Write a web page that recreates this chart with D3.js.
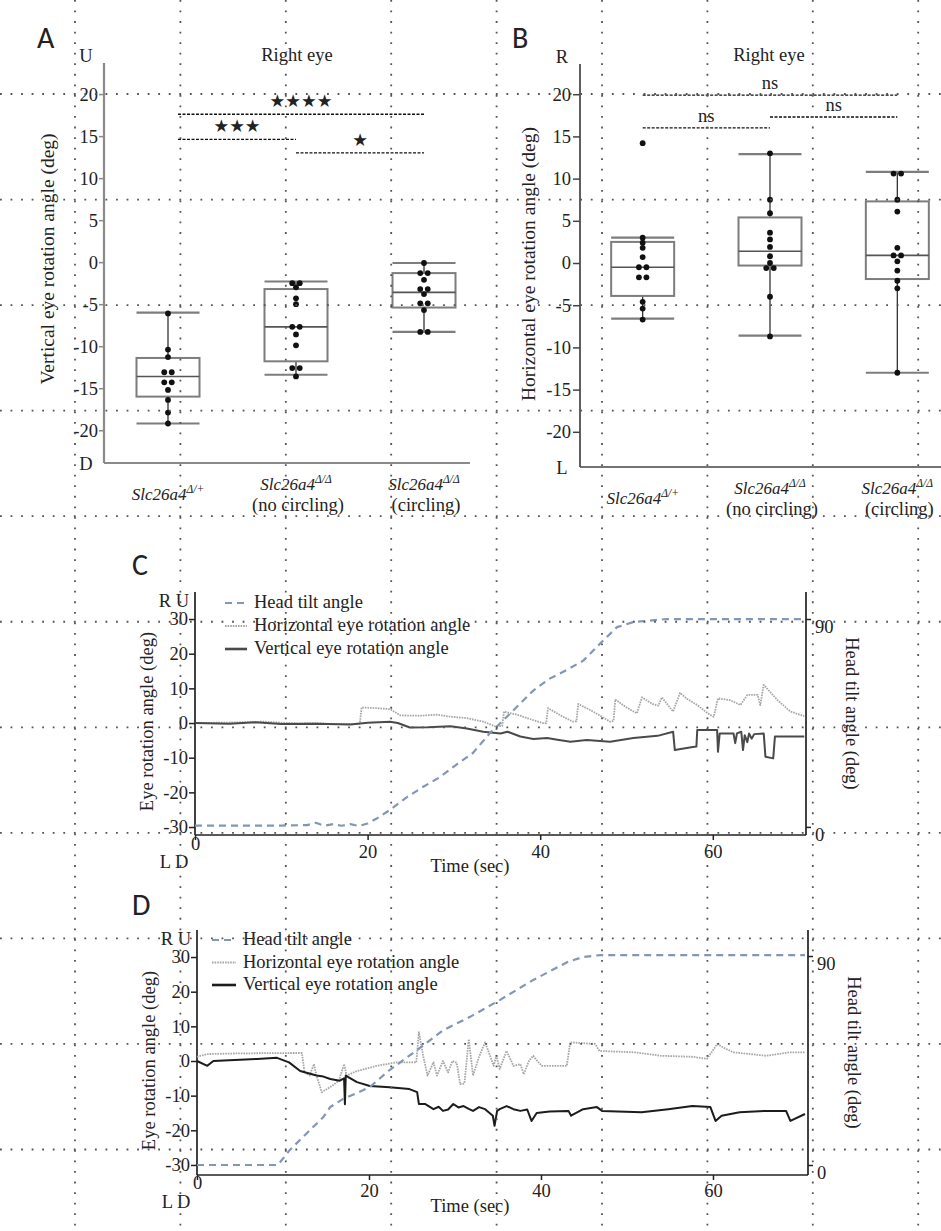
<!DOCTYPE html>
<html><head><meta charset="utf-8">
<script src="https://cdn.jsdelivr.net/npm/d3@7"></script>
<style>
body{margin:0;background:#fff}
svg{display:block}
text{fill:#222}
</style></head><body>
<svg id="fig" width="941" height="1231" style="font-family:'Liberation Serif','Times New Roman',serif"></svg>
<script>
// ---------------- DATA ----------------
const groups = ["het", "noCircling", "circling"];
const groupGene = ["Slc26a4", "Slc26a4", "Slc26a4"];
const groupSup = ["Δ/+", "Δ/Δ", "Δ/Δ"];
const groupNote = ["", "(no circling)", "(circling)"];

const boxTicks = [-20, -15, -10, -5, 0, 5, 10, 15, 20];

// Panel A: vertical eye rotation angle (deg)
const aPoints = [
  [-6.1, -10.4, -11.3, -13.1, -13.1, -14.3, -14.3, -15.2, -16.4, -17.9, -19.2],
  [-2.5, -2.5, -3.0, -4.3, -5.0, -7.7, -7.7, -8.6, -9.9, -12.6, -12.6, -13.6],
  [-0.1, -1.3, -1.3, -2.1, -3.2, -3.2, -3.8, -4.9, -4.9, -5.7, -8.3, -8.3]
];
const aWhiskHi = [-6.0, -2.3, -0.1];
const aQ3 = [-11.4, -3.2, -1.3];
const aMedian = [-13.6, -7.7, -3.6];
const aQ1 = [-16.0, -11.8, -5.4];
const aWhiskLo = [-19.2, -13.4, -8.3];
const aBrackets = [[0, 2, 17.6, "★★★★"], [0, 1, 14.6, "★★★"], [1, 2, 13.0, "★"]];

// Panel B: horizontal eye rotation angle (deg)
const bPoints = [
  [14.2, 3.0, 2.4, 1.8, 0.7, -0.5, -0.5, -1.7, -1.7, -4.6, -5.4, -6.7],
  [13.0, 7.5, 5.9, 3.6, 2.8, 1.9, 0.8, 0.0, -0.6, -0.6, -4.0, -8.7],
  [10.6, 10.6, 7.5, 6.1, 1.8, 0.9, 0.9, 0.2, -0.9, -2.1, -3.0, -13.0]
];
const bWhiskHi = [3.0, 12.9, 10.8];
const bQ3 = [2.5, 5.4, 7.3];
const bMedian = [-0.5, 1.4, 0.9];
const bQ1 = [-3.9, -0.3, -1.9];
const bWhiskLo = [-6.6, -8.6, -13.0];
const bBrackets = [[0, 2, 19.9, "ns"], [0, 1, 16.0, "ns"], [1, 2, 17.3, "ns"]];

// Panels C / D: time courses  [time (s), angle (deg)]
const eyeTicks = [-30, -20, -10, 0, 10, 20, 30];
const timeTicks = [0, 20, 40, 60];
const headTicks = [0, 90];
const legendLabels = ["Head tilt angle", "Horizontal eye rotation angle", "Vertical eye rotation angle"];

const cHeadTilt = [[0,0.6],[10,0.6],[13,0.8],[14,1.8],[15,0.5],[16,1.2],[17,0.5],[18,1.2],[19,0.4],[20,1.5],[21,3.5],[22.6,7.4],[24.6,13],[26.5,17.5],[28.4,21.6],[30.3,27],[32.2,32],[34.2,40.7],[35.4,45],[37.3,52],[39.2,59],[41,64],[43.1,68],[45,72],[47,79.6],[48.9,86.5],[50.8,88.7],[54.7,90],[70.6,90]];
const cHorizontal = [[0,0],[3,0.1],[5,0.2],[8,0.4],[10,0.1],[12,-0.1],[14,0],[16,-0.3],[19.1,-0.2],[19.3,4.5],[21,4.3],[22.6,4.0],[23.8,2.2],[26,2.1],[28,2.4],[29.7,1.8],[31.5,1.4],[33.4,0.4],[34.8,-1.0],[35.6,-0.8],[35.8,3.3],[37.3,2.4],[39,1.0],[40.3,0],[40.7,0],[40.9,4.3],[42.5,2.0],[43.8,0.4],[44.2,0.5],[44.4,5.5],[46,3.5],[48.1,0.4],[48.5,0.6],[48.7,6.8],[50,4.5],[51.2,2.8],[51.8,7.4],[53,5.5],[53.7,5.0],[54.1,7.4],[55.4,3.3],[56.2,8.7],[57,7.0],[58.2,5.2],[59.4,2.8],[60.1,1.8],[60.6,7.1],[62,6.6],[63.2,5.2],[64,8.1],[65.2,8.1],[65.5,5.2],[65.9,11],[67.5,6.6],[69,3.3],[70.6,2.0]];
const cVertical = [[0,0],[4,-0.2],[7,0.2],[10,-0.3],[14,-0.2],[18,-0.4],[20,0.1],[22.6,0.4],[23.5,0],[24.9,-1.3],[27,-1.2],[29.6,-0.9],[31.5,-1.6],[33.4,-2.5],[35.4,-3.0],[36.2,-2.5],[37.7,-3.9],[39.2,-4.6],[40.8,-4.3],[42,-4.8],[43.5,-5.4],[45.4,-4.9],[48.1,-5.4],[50.8,-4.3],[53.6,-3.7],[55.4,-2.5],[55.6,-7.8],[57.5,-7.0],[58.1,-6.8],[58.2,-2.0],[60.5,-2.0],[60.6,-8.3],[60.8,-3.0],[62.4,-3.0],[62.6,-5.8],[62.8,-3.0],[63.3,-2.5],[63.5,-7.8],[63.7,-3.5],[64,-5.5],[64.2,-3.0],[64.5,-4.5],[64.8,-3.2],[65.9,-3.0],[66.1,-9.7],[67,-10.2],[67.2,-3.9],[70.6,-3.9]];

const dHeadTilt = [[0,0],[9.4,0],[10.8,6.5],[12.8,13.8],[14.7,20.7],[15.5,25],[17,28.5],[18.6,31],[20.1,33.6],[22.4,40.9],[25.6,49.5],[28.6,58],[31.7,63.7],[35.2,71],[39.1,79.7],[43.1,87.4],[44.9,89.6],[46.9,90.4],[70.7,90.4]];
const dHorizontal = [[0,1.2],[1.2,2.0],[5,2.2],[10.8,2.3],[12.2,2.3],[12.5,-3.2],[13.1,-4.2],[13.6,-0.9],[13.9,-4.2],[14.5,-9.0],[15.7,-7.2],[16.5,-5.7],[17.1,-0.9],[17.4,-4.2],[18.6,-2.9],[20.9,-1.4],[23.2,-0.4],[25.5,-0.4],[25.8,8.3],[26.3,1.5],[26.8,-4.2],[27.5,-0.4],[27.9,-4.2],[28.6,0],[29.2,-3.3],[29.7,0],[30.2,-0.5],[30.6,-6.7],[31.1,-6.5],[31.6,6.3],[32.1,-4.2],[32.8,1.2],[33.5,5.4],[34.5,-1.4],[34.8,1.5],[35.2,-2.3],[36,2.9],[36.8,-1.4],[37.6,-0.9],[38,-3.8],[38.6,0],[39.1,1.5],[39.4,0.5],[40.1,-1.4],[43.0,-1.4],[43.4,5.4],[46.3,4.9],[46.8,2.9],[50.9,2.5],[54,1.5],[57.7,1.2],[59.3,0.6],[60.5,4.9],[61.5,3.5],[62.4,2.5],[66.2,1.5],[68.9,2.5],[70.7,2.5]];
const dVertical = [[0,0],[1.2,-1.4],[1.9,0],[7,0.6],[9.3,0.9],[10.7,-0.4],[12,-2.9],[13.9,-4.2],[14.7,-4.5],[15.5,-5.2],[16.6,-5.7],[17.1,-5.0],[17.2,-12.5],[17.3,-4.2],[18.6,-6.1],[20.1,-7.2],[22.4,-7.6],[24.7,-8.1],[25.6,-9.0],[25.8,-12.4],[26.5,-12.4],[27.5,-13.9],[28.1,-13.2],[28.6,-14.4],[29.2,-14.0],[29.8,-12.4],[30.4,-13.4],[31,-13],[31.6,-13.8],[32.1,-14.4],[32.8,-13.3],[33.5,-13.9],[34.4,-15.8],[34.6,-18.7],[34.9,-14.4],[35.2,-13.9],[36,-13],[36.8,-13.9],[37.6,-14.4],[38.4,-14],[38.9,-17.3],[39.5,-15],[41,-14.6],[43.2,-14.4],[43.5,-15.8],[44.9,-13.9],[46.5,-13.3],[47.1,-14.4],[51.7,-14.8],[54.8,-13.9],[57.6,-13],[59.7,-13.3],[60.3,-17.3],[61,-15.8],[63.1,-14.8],[66.2,-14.4],[68.5,-14.4],[69,-17.3],[70.7,-15.3]];

// ---------------- DRAWING ----------------
const svg = d3.select("#fig");
const FS = 18.5;
const SERIF = "'Liberation Serif','Times New Roman',serif";
const SANS = "Carlito, Calibri, 'Open Sans', 'Liberation Sans', sans-serif";

function styleAxis(ax, color) {
  ax.attr("font-family", SERIF).attr("font-size", FS);
  ax.select(".domain").remove();
  ax.selectAll(".tick line").attr("stroke", color).attr("stroke-width", 1.5);
  ax.selectAll(".tick text").attr("fill", "#222");
}

function swarm(vals, tol, gap) {
  const s = vals.slice().sort((a, b) => b - a);
  const out = [];
  let k = 0;
  while (k < s.length) {
    let j = k;
    while (j + 1 < s.length && Math.abs(s[j + 1] - s[k]) <= tol) j++;
    const n = j - k + 1;
    for (let m = 0; m < n; m++) out.push({ v: s[k + m], dx: (m - (n - 1) / 2) * gap });
    k = j + 1;
  }
  return out;
}

function panelLetter(g, x, y, t) {
  g.append("text").attr("x", x).attr("y", y).style("font-family", SANS)
    .attr("font-size", 30).attr("fill", "#111").text(t);
}

function boxPanel(o) {
  const g = svg.append("g");
  const x = d3.scalePoint().domain(groups).range(o.xRange).padding(0.5);
  const y = d3.scaleLinear().domain(o.yDomain).range([o.yBottom, o.yTop]);
  const bw = 63;

  // axes
  g.append("line").attr("x1", o.axisX).attr("x2", o.axisX).attr("y1", o.yTop).attr("y2", o.yBottom)
    .attr("stroke", o.axisColor).attr("stroke-width", o.axisWidth);
  g.append("line").attr("x1", o.axisX).attr("x2", o.xEnd).attr("y1", o.yBottom).attr("y2", o.yBottom)
    .attr("stroke", o.axisColor).attr("stroke-width", o.axisWidth);
  const ax = g.append("g").attr("transform", `translate(${o.axisX},0)`)
    .call(d3.axisLeft(y).tickValues(boxTicks).tickSize(o.tickSize).tickPadding(o.tickPad).tickFormat(d => String(d)));
  styleAxis(ax, o.axisColor);

  // direction labels
  g.append("text").attr("x", o.axisX - 18).attr("y", o.yTop - 1).attr("text-anchor", "middle").attr("font-size", FS).text(o.topLetter);
  g.append("text").attr("x", o.axisX - 18).attr("y", o.yBottom + 7).attr("text-anchor", "middle").attr("font-size", FS).text(o.botLetter);

  // titles
  g.append("text").attr("x", o.titleX).attr("y", 61).attr("text-anchor", "middle").attr("font-size", FS).text("Right eye");
  g.append("text").attr("transform", `translate(${o.yTitleX},${o.yTitleY}) rotate(-90)`)
    .attr("text-anchor", "middle").attr("font-size", 19.5).text(o.yTitle);
  panelLetter(g, o.letterX, 48, o.letter);

  // category labels
  groups.forEach((gr, i) => {
    const cx = x(gr);
    const two = groupNote[i] !== "";
    const t = g.append("text").attr("x", cx).attr("y", two ? o.yBottom + 27 : o.yBottom + 37)
      .attr("text-anchor", "middle").attr("font-size", 17).attr("font-style", "italic");
    t.append("tspan").text(groupGene[i]);
    t.append("tspan").attr("font-size", 11.5).attr("dy", -7).text(groupSup[i]);
    if (two) g.append("text").attr("x", cx + 2).attr("y", o.yBottom + 48).attr("text-anchor", "middle")
      .attr("font-size", FS).text(groupNote[i]);
  });

  // boxes
  groups.forEach((gr, i) => {
    const cx = x(gr);
    g.append("line").attr("x1", cx).attr("x2", cx).attr("y1", y(o.whiskHi[i])).attr("y2", y(o.q3[i]))
      .attr("stroke", "#333").attr("stroke-width", 1.3);
    g.append("line").attr("x1", cx).attr("x2", cx).attr("y1", y(o.q1[i])).attr("y2", y(o.whiskLo[i]))
      .attr("stroke", "#333").attr("stroke-width", 1.3);
    g.append("rect").attr("x", cx - bw / 2).attr("y", y(o.q3[i])).attr("width", bw)
      .attr("height", y(o.q1[i]) - y(o.q3[i])).attr("fill", "none").attr("stroke", "#7d7d7d").attr("stroke-width", 2);
    g.append("line").attr("x1", cx - bw / 2).attr("x2", cx + bw / 2).attr("y1", y(o.median[i])).attr("y2", y(o.median[i]))
      .attr("stroke", "#555").attr("stroke-width", 1.6);
    [o.whiskHi[i], o.whiskLo[i]].forEach(v => {
      g.append("line").attr("x1", cx - bw / 2).attr("x2", cx + bw / 2).attr("y1", y(v)).attr("y2", y(v))
        .attr("stroke", "#7d7d7d").attr("stroke-width", 2.2);
    });
    g.selectAll(null).data(swarm(o.points[i], 0.2, 7.5)).join("circle")
      .attr("cx", d => cx + d.dx).attr("cy", d => y(d.v)).attr("r", 2.9).attr("fill", "#111");
  });

  // significance brackets
  o.brackets.forEach(([a, b, lvl, lab]) => {
    const x1 = x(groups[a]) + (a === 0 ? o.bracketInset : 0);
    const x2 = x(groups[b]);
    g.append("line").attr("x1", x1).attr("x2", x2).attr("y1", y(lvl)).attr("y2", y(lvl))
      .attr("stroke", "#111").attr("stroke-width", 1.3).attr("stroke-dasharray", "3,1.5");
    const t = g.append("text").attr("x", (x1 + x2) / 2).attr("y", y(lvl) - o.labelGap)
      .attr("text-anchor", "middle").text(lab);
    if (o.starLabels) t.style("font-family", "'DejaVu Sans',sans-serif").attr("font-size", 17.5).attr("fill", "#111");
    else t.attr("font-size", FS);
  });
}

boxPanel({
  letter: "A", letterX: 37,
  xRange: [104, 488], axisX: 104, xEnd: 470, yTop: 63, yBottom: 463, yDomain: [-23.9, 23.7],
  axisColor: "#8a8a8a", axisWidth: 2.2, tickSize: 5, tickPad: 1,
  topLetter: "U", botLetter: "D", titleX: 297,
  yTitle: "Vertical eye rotation angle (deg)", yTitleX: 54, yTitleY: 259,
  points: aPoints, whiskHi: aWhiskHi, q3: aQ3, median: aMedian, q1: aQ1, whiskLo: aWhiskLo,
  brackets: aBrackets, bracketInset: 10, labelGap: 7, starLabels: true
});
boxPanel({
  letter: "B", letterX: 512,
  xRange: [579, 961], axisX: 580, xEnd: 941, yTop: 64, yBottom: 467, yDomain: [-24.17, 23.58],
  axisColor: "#444", axisWidth: 1.7, tickSize: 7, tickPad: 2,
  topLetter: "R", botLetter: "L", titleX: 769,
  yTitle: "Horizontal eye rotation angle (deg)", yTitleX: 535, yTitleY: 264,
  points: bPoints, whiskHi: bWhiskHi, q3: bQ3, median: bMedian, q1: bQ1, whiskLo: bWhiskLo,
  brackets: bBrackets, bracketInset: 0, labelGap: 6, starLabels: false
});

function linePanel(o) {
  const g = svg.append("g");
  const x = d3.scaleLinear().domain([0, o.tMax]).range([o.x0, o.x1]);
  const yL = d3.scaleLinear().domain(o.leftDomain).range([o.yBottom, o.yTop]);
  const yR = d3.scaleLinear().domain(o.rightDomain).range([o.yBottom, o.yTop]);
  const axc = "#222";

  // axes
  [[o.x0, o.x0, o.yTop, o.yBottom], [o.x1, o.x1, o.yTop, o.yBottom], [o.x0, o.x1, o.yBottom, o.yBottom]].forEach(s => {
    g.append("line").attr("x1", s[0]).attr("x2", s[1]).attr("y1", s[2]).attr("y2", s[3])
      .attr("stroke", axc).attr("stroke-width", 1.7);
  });
  const al = g.append("g").attr("transform", `translate(${o.x0},0)`)
    .call(d3.axisLeft(yL).tickValues(eyeTicks).tickSize(6).tickPadding(1).tickFormat(d => String(d)));
  styleAxis(al, axc);
  const ar = g.append("g").attr("transform", `translate(${o.x1},0)`)
    .call(d3.axisRight(yR).tickValues(headTicks).tickSize(5).tickPadding(4));
  styleAxis(ar, axc);
  ar.selectAll(".tick text").attr("y", 7.5);
  const ab = g.append("g").attr("transform", `translate(0,${o.yBottom})`)
    .call(d3.axisBottom(x).tickValues(timeTicks).tickSize(5).tickPadding(o.bottomPad));
  styleAxis(ab, axc);
  ab.selectAll(".tick text").filter(d => d === 0).attr("y", o.bottomPad - 3);

  // labels
  panelLetter(g, o.letterX, o.letterY, o.letter);
  g.append("text").attr("x", o.x0 - 21).attr("y", o.yTop + 15).attr("text-anchor", "middle").attr("font-size", FS).text("R U");
  g.append("text").attr("x", o.x0 - 21).attr("y", o.yBottom + 33).attr("text-anchor", "middle").attr("font-size", FS).text("L D");
  g.append("text").attr("x", 470).attr("y", o.yBottom + 37).attr("text-anchor", "middle").attr("font-size", FS).text("Time (sec)");
  g.append("text").attr("transform", `translate(${o.x0 - 42},${(o.yTop + o.yBottom) / 2 + 8}) rotate(-90)`)
    .attr("text-anchor", "middle").attr("font-size", FS).text("Eye rotation angle (deg)");
  g.append("text").attr("transform", `translate(${o.x1 + 40},${(o.yTop + o.yBottom) / 2 + 0}) rotate(90)`)
    .attr("text-anchor", "middle").attr("font-size", FS).text("Head tilt angle (deg)");

  // lines
  const styles = [
    { stroke: "#8296b6", w: 2.2, dash: "7,5" },
    { stroke: "#a6a6a6", w: 1.8, dash: "1.6,1" },
    { stroke: o.vertColor, w: 2, dash: null }
  ];
  const series = [
    { data: o.head, y: yR, s: styles[0] },
    { data: o.horiz, y: yL, s: styles[1] },
    { data: o.vert, y: yL, s: styles[2] }
  ];
  [series[1], series[2], series[0]].forEach(se => {
    g.append("path").datum(se.data)
      .attr("d", d3.line().x(d => x(d[0])).y(d => se.y(d[1])))
      .attr("fill", "none").attr("stroke", se.s.stroke).attr("stroke-width", se.s.w)
      .attr("stroke-dasharray", se.s.dash).attr("stroke-linejoin", "round");
  });

  // legend
  legendLabels.forEach((lab, i) => {
    const by = o.legY + i * o.legStep;
    g.append("line").attr("x1", o.legX).attr("x2", o.legX + o.legLen).attr("y1", by - 5).attr("y2", by - 5)
      .attr("stroke", styles[i].stroke).attr("stroke-width", i === 2 ? 2.6 : styles[i].w)
      .attr("stroke-dasharray", styles[i].dash);
    g.append("text").attr("x", o.legX + o.legLen + 7).attr("y", by).attr("font-size", FS).text(lab);
  });
}

linePanel({
  letter: "C", letterX: 132, letterY: 575,
  x0: 195, x1: 806, tMax: 70.8, yTop: 592, yBottom: 835,
  leftDomain: [-32.3, 37.8], rightDomain: [-3.5, 101.7], bottomPad: 5,
  head: cHeadTilt, horiz: cHorizontal, vert: cVertical, vertColor: "#4a4a4a",
  legX: 225, legLen: 22, legY: 608, legStep: 23
});
linePanel({
  letter: "D", letterX: 132, letterY: 915,
  x0: 197, x1: 808, tMax: 71.05, yTop: 930, yBottom: 1175,
  leftDomain: [-32.9, 37.8], rightDomain: [-4.3, 101.2], bottomPad: 4,
  head: dHeadTilt, horiz: dHorizontal, vert: dVertical, vertColor: "#1c1c1c",
  legX: 212, legLen: 24, legY: 945, legStep: 22.5
});

// layout guide grid (dotted) overlaid on the figure
const guide = svg.append("g").attr("stroke", "#555").attr("stroke-width", 1.8).attr("stroke-dasharray", "1.8,8.75");
d3.range(9).map(i => 75 + i * 105.4).forEach(gx => {
  guide.append("line").attr("x1", gx).attr("x2", gx).attr("y1", 0).attr("y2", 1231);
});
d3.range(11).map(i => 94 + i * 105.55).forEach(gy => {
  guide.append("line").attr("x1", 0).attr("x2", 941).attr("y1", gy).attr("y2", gy);
});
</script>
</body></html>
